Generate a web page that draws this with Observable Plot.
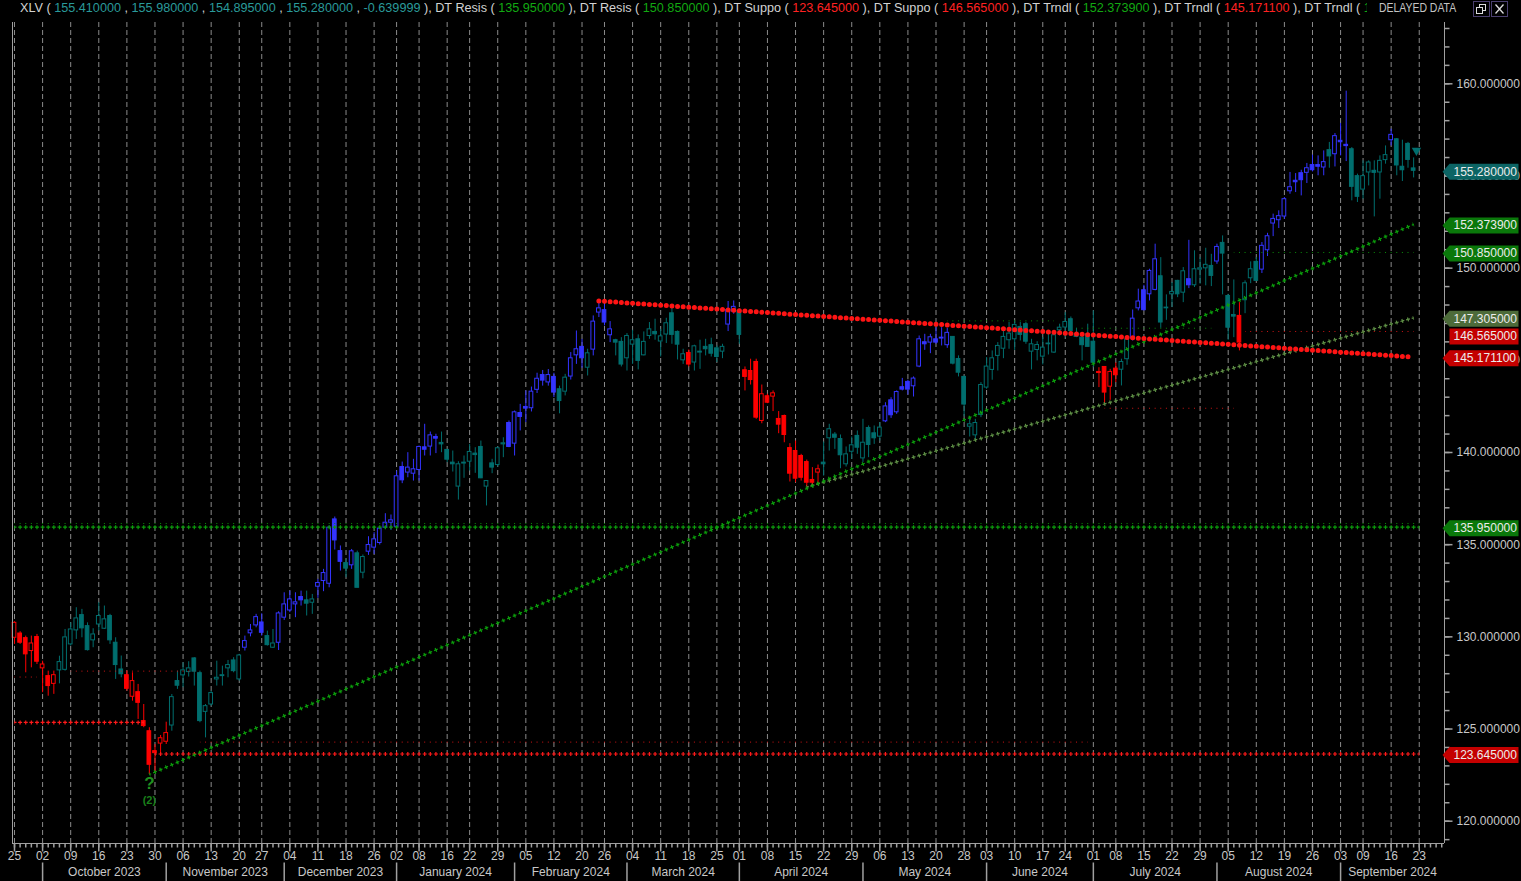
<!DOCTYPE html>
<html><head><meta charset="utf-8">
<script src="https://cdn.jsdelivr.net/npm/d3@7"></script>
<script src="https://cdn.jsdelivr.net/npm/@observablehq/plot@0.6"></script>
<style>
html,body{margin:0;padding:0;background:#000;overflow:hidden}
#wrap{position:relative;width:1521px;height:881px;background:#000}
#hdr{position:absolute;left:20px;top:0px;white-space:nowrap;font:12.65px "Liberation Sans",Arial,sans-serif;color:#d2d2d2;line-height:16px}
#hdr .cut{display:inline-block;width:3px;overflow:hidden;vertical-align:top}
#delayed{position:absolute;left:1379px;top:1px;font:12px "Liberation Sans",Arial,sans-serif;color:#c4c4c4;line-height:15px;transform:scaleX(0.87);transform-origin:left top;white-space:nowrap}
.btn{position:absolute;top:1px;width:17px;height:16px;border:1px solid #4a3f6e;box-sizing:border-box;background:#000}
.btn svg{position:absolute;left:0;top:0}
</style></head><body>
<div id="wrap"><div id="chart"></div><div id="hdr"></div><div id="delayed">DELAYED DATA</div>
<div class="btn" style="left:1473px"><svg width="15" height="14"><rect x="5.5" y="2.5" width="6" height="6" fill="none" stroke="#ddd"/><rect x="2.5" y="5.5" width="6" height="6" fill="#000" stroke="#ddd"/></svg></div>
<div class="btn" style="left:1491px"><svg width="15" height="14"><path d="M3.5 2.5 L11.5 11.5 M11.5 2.5 L3.5 11.5" stroke="#ddd" stroke-width="1.3"/></svg></div>
</div>
<script>
// ---------------- DATA ----------------
const symbolName = "XLV";
const headerChange = -0.639999;

const open = [
129.95,130.18,129.93,129.23,129.99,128.29,127.87,127.45,128.18,128.21,
129.59,130.35,131.18,130.58,129.81,130.67,130.44,131.13,129.68,128.23,
127.92,126.75,127.00,125.43,124.88,123.80,124.21,124.31,125.19,127.60,
127.91,128.09,128.83,128.03,125.93,126.33,127.69,127.87,128.29,128.72,
127.69,129.41,130.19,130.62,130.78,130.04,129.41,129.68,131.04,131.43,
131.76,132.16,131.98,131.85,132.72,133.03,132.88,136.37,134.65,134.00,
133.88,134.53,133.48,134.62,134.84,135.09,135.92,136.19,135.97,139.21,
138.91,138.85,139.05,140.28,140.32,140.84,140.52,140.14,139.45,138.15,
139.40,139.50,139.94,140.30,138.15,139.41,139.32,140.44,141.60,140.48,
142.14,142.47,142.40,143.40,144.20,143.80,144.10,143.43,143.30,144.12,
145.27,145.73,144.60,145.58,147.59,147.72,146.36,146.09,146.00,145.11,
145.85,146.14,145.27,146.32,146.54,146.02,146.40,147.55,146.54,145.00,
145.40,144.88,145.42,145.73,145.82,145.65,145.47,146.94,147.64,147.68,
144.46,144.42,144.91,141.71,143.05,143.03,141.82,141.98,140.24,140.08,
139.81,139.48,138.51,138.91,139.45,140.77,140.97,140.73,139.36,140.04,
140.90,139.68,141.33,141.04,140.86,141.69,142.83,142.18,143.54,143.83,
143.59,144.66,145.98,145.96,146.14,146.18,145.82,146.27,145.07,144.10,
141.40,140.93,142.03,143.52,144.48,145.24,145.63,146.09,146.14,146.81,
146.96,145.47,145.56,145.20,145.87,145.42,146.63,146.78,147.23,146.41,
146.23,146.41,146.01,144.37,144.64,143.57,144.55,144.49,145.06,146.18,
147.82,148.80,148.58,148.82,149.56,147.86,148.58,149.31,148.67,149.40,
149.07,149.92,149.99,150.12,150.36,151.37,148.49,147.46,147.41,148.26,
149.45,150.34,149.92,150.97,152.42,152.60,152.80,154.17,154.74,155.15,
155.17,155.59,155.59,155.46,156.40,156.18,156.91,156.69,156.45,154.99,
154.26,155.19,155.28,155.19,155.86,156.94,156.99,155.50,156.74,155.41];

const high = [
130.82,130.28,130.04,130.04,130.13,128.68,128.14,128.14,128.95,130.40,
130.76,131.58,131.49,130.76,130.44,131.85,131.67,131.22,129.95,128.96,
128.14,128.05,127.42,126.33,125.07,124.16,124.65,125.37,126.87,128.14,
128.59,128.65,128.87,128.14,126.33,127.06,128.68,128.41,128.72,128.87,
129.05,130.04,130.67,131.22,131.25,130.31,130.40,131.36,132.39,132.48,
132.39,132.48,132.48,132.30,133.12,133.66,136.01,136.50,134.93,134.20,
134.74,134.65,134.44,135.43,135.65,135.92,136.68,136.61,138.99,139.48,
139.99,139.63,140.35,141.53,141.11,140.99,141.11,140.17,140.08,139.50,
139.81,140.44,140.26,140.62,138.45,139.63,140.30,140.80,141.71,142.25,
142.61,143.34,143.55,144.30,144.45,144.50,144.30,143.60,144.24,145.42,
146.59,146.14,145.60,147.41,148.22,148.04,147.10,146.14,146.23,146.45,
146.63,146.38,146.54,147.05,147.23,146.68,147.28,147.82,146.59,145.60,
145.56,145.82,146.09,146.14,146.20,145.78,145.87,148.19,148.22,147.77,
144.64,145.06,145.06,143.66,143.16,143.34,142.22,142.03,140.48,140.62,
139.90,139.59,139.18,139.32,140.57,141.53,141.08,140.95,140.30,140.84,
141.17,141.80,141.44,141.44,141.62,142.70,142.97,143.34,144.02,143.92,
144.10,146.32,146.41,146.41,146.77,146.77,146.74,146.29,145.24,144.15,
141.93,141.80,143.79,145.15,145.51,145.96,146.59,147.05,147.14,147.05,
147.05,146.14,146.01,146.23,146.45,146.45,146.96,147.59,147.35,146.74,
146.41,146.96,147.68,144.60,144.64,144.51,144.86,145.06,146.27,147.73,
148.86,149.07,149.94,151.30,150.57,148.55,149.22,149.34,150.03,151.51,
150.94,150.57,151.08,150.75,151.30,151.75,148.58,149.36,148.13,149.31,
150.34,150.57,151.39,151.89,152.93,153.11,153.83,155.19,155.13,155.31,
155.68,156.13,156.09,156.36,156.82,157.30,157.85,159.60,156.54,155.10,
155.82,155.82,155.82,156.09,156.63,157.54,157.03,156.94,156.82,155.98];

const low = [
129.59,129.59,128.05,128.32,128.50,126.97,126.78,126.88,127.45,128.14,
129.50,129.86,129.95,129.23,129.41,130.31,130.40,129.59,127.69,127.78,
127.06,126.51,125.52,125.07,122.53,122.62,123.62,124.16,124.88,127.15,
127.24,127.82,127.33,125.34,124.52,126.24,127.33,127.33,127.78,128.05,
127.60,129.23,130.00,130.49,130.04,129.50,129.37,129.26,130.89,131.31,
131.04,131.67,131.13,131.22,132.09,132.45,132.66,134.71,133.57,133.21,
133.66,132.66,133.15,134.42,134.47,134.98,135.83,135.78,135.97,138.31,
138.63,138.45,138.45,139.81,139.81,139.94,139.99,139.45,138.94,137.42,
138.60,138.99,138.87,138.58,137.10,138.85,139.21,139.72,140.26,139.81,
141.17,141.62,142.20,143.20,143.60,143.60,142.98,142.10,143.07,143.93,
144.78,144.57,144.15,145.24,147.32,146.87,145.96,145.24,144.64,144.42,
144.78,144.48,145.24,146.14,146.09,145.18,145.91,145.87,145.02,144.78,
144.64,144.42,144.51,145.24,145.18,144.88,145.09,146.56,147.50,145.87,
143.34,143.66,141.80,141.56,142.65,142.22,141.02,140.53,138.40,138.36,
138.45,138.13,138.13,138.24,138.72,140.08,140.17,139.12,139.21,139.63,
139.90,139.45,139.72,140.44,140.62,141.62,141.85,142.07,143.34,143.12,
143.01,144.60,145.54,145.36,145.87,145.78,145.65,144.75,144.10,141.93,
140.84,140.66,141.89,143.43,143.92,144.42,145.09,145.60,145.54,146.05,
145.87,144.48,144.97,144.75,145.29,145.37,146.32,146.23,146.45,146.23,
144.97,145.73,144.60,143.52,142.61,142.83,143.79,143.61,144.73,146.05,
147.68,147.68,148.22,148.77,146.74,147.17,147.86,148.40,148.13,148.89,
148.95,149.13,149.04,149.00,150.21,148.55,146.09,146.23,145.51,147.53,
149.16,149.31,149.71,150.63,151.71,152.15,152.65,154.01,154.10,153.92,
154.59,155.22,155.01,155.01,155.42,155.49,156.09,155.78,153.65,153.56,
153.74,154.46,152.78,153.74,155.64,156.63,155.01,154.70,155.42,154.895];

const close = [
130.76,129.68,129.05,129.64,128.65,128.50,127.33,127.92,128.63,129.97,
130.40,131.00,130.46,129.28,130.13,131.13,130.95,129.81,128.47,127.97,
127.18,127.60,126.42,125.16,123.06,123.69,124.50,124.78,126.73,127.35,
128.18,128.29,128.11,125.43,126.24,126.95,127.78,127.92,128.47,128.14,
128.99,129.77,130.35,131.07,130.22,129.55,129.64,131.27,131.76,132.03,
131.87,131.98,131.80,132.03,132.92,133.46,135.92,135.23,134.07,133.70,
134.64,132.66,134.33,134.98,135.29,135.87,136.19,136.32,138.71,138.49,
139.18,139.09,140.30,140.15,140.93,140.75,140.44,139.61,139.36,139.36,
139.45,140.03,139.86,138.60,138.45,139.18,140.23,140.50,140.30,142.18,
141.93,142.38,143.30,144.00,143.90,144.20,143.25,142.79,144.06,145.11,
145.60,145.11,145.38,147.10,147.82,147.05,146.68,145.96,144.77,146.32,
146.09,144.97,146.00,146.68,146.41,146.30,147.01,146.38,145.85,145.33,
144.77,145.76,145.47,145.60,145.36,145.18,145.73,147.73,147.90,146.38,
144.10,143.93,141.89,143.16,142.70,143.21,141.51,140.95,138.85,138.58,
138.63,138.36,138.36,139.09,139.36,141.26,140.80,139.85,139.90,140.39,
140.26,140.53,140.41,140.77,141.35,142.50,142.02,143.28,143.41,143.41,
144.01,146.14,145.87,146.25,145.96,146.23,146.49,144.82,144.33,142.60,
141.53,141.60,143.66,144.66,145.11,145.78,146.27,146.45,146.92,146.38,
146.01,145.87,145.83,145.69,145.91,146.36,146.77,147.08,146.59,146.27,
145.82,145.73,144.87,144.31,143.25,144.37,144.19,144.91,146.14,147.26,
148.19,147.72,149.85,150.48,147.05,147.82,148.71,148.58,149.83,149.07,
149.94,149.99,150.18,149.58,151.15,150.79,146.77,147.37,145.96,149.18,
149.94,149.31,151.21,151.73,152.67,152.82,153.74,154.39,154.66,154.77,
155.42,155.31,155.50,155.75,156.06,157.16,156.83,156.62,154.41,153.87,
154.99,155.73,155.17,155.82,156.13,157.23,155.57,155.31,155.87,155.28];

// trend-colour regime: first bar index of each run and its code (R red, T neutral, B blue)
const regimeStart = [0,8,20,28,41,45,47,52,54,59,60,61,63,76,88,97,99,102,103,107,120,121,127,129,130,144,155,167,193,197,199,204,209,210,214,215,218,219,222,234,235,238,245,246];
const regimeCode  = ["R","T","R","T","B","T","B","T","B","T","B","T","B","T","B","T","B","T","B","T","R","T","B","T","R","T","B","T","R","T","B","T","B","T","B","T","R","T","B","T","B","T","B","T"];

// week ticks (bar index of first session of each week) and their labels
const weekIdx = [0,5,10,15,20,25,30,35,40,44,49,54,59,64,68,72,77,81,86,91,96,101,105,110,115,120,125,129,134,139,144,149,154,159,164,169,173,178,183,187,192,196,201,206,211,216,221,226,231,236,240,245,250];
const weekLabels = ["25","02","09","16","23","30","06","13","20","27","04","11","18","26","02","08","16","22","29","05","12","20","26","04","11","18","25","01","08","15","22","29","06","13","20","28","03","10","17","24","01","08","15","22","29","05","12","19","26","03","09","16","23"];
const monthStart = [5,27,48,68,89,109,129,151,173,192,214,236];
const monthNames = ["October 2023","November 2023","December 2023","January 2024","February 2024","March 2024","April 2024","May 2024","June 2024","July 2024","August 2024","September 2024"];

const yTicks = [120,125,130,135,140,145,150,155,160];

// indicator levels (header + price tags)
const indNames  = ["DT Resis","DT Resis","DT Suppo","DT Suppo","DT Trndl","DT Trndl","DT Trndl"];
const indValues = [135.95,150.85,123.645,146.565,152.3739,145.1711,147.305];
const indKind   = ["g","g","r","r","g","r","g"];

// horizontal "+" levels
const plusLevel = [135.95,125.36,123.645];
const plusFrom  = [0,0,25];
const plusTo    = [250,23,250];
const plusKind  = ["g","r","r"];

// thin dotted horizontal levels
const dotLevel = [136.15,127.82,128.14,124.29,147.14,146.74,150.85,146.565,142.40];
const dotFrom  = [0,0,10,33,166,189,217,219,194];
const dotTo    = [250,4,32,191,185,213,249,249,217];
const dotKind  = ["g","r","r","r","g","g","g","r","r"];

// trend lines: [startBar, startValue, endBar, endValue]
const upTrendA   = [24,122.53,249,152.3739];
const upTrendB   = [141,138.13,249,147.305];
const downTrend  = [104,148.22,249,145.1711];

// price tags on the axis
const tagValues = [155.28,152.3739,150.85,147.305,146.565,145.1711,135.95,123.645];
const tagKind   = ["c","g","g","o","r","r","g","r"];

// ---------------- LAYOUT / STYLE ----------------
const W=1521,H=881,mL=12,mR=77,mT=22,mB=38;
const xDom=[-0.3559,254.494], yDom=[118.79,163.325];
const pxPerBar=(W-mL-mR)/(xDom[1]-xDom[0]);
const pxPerUnit=(H-mT-mB)/(yDom[1]-yDom[0]);
const candleCol={R:"#ff0000",T:"#006e6e",B:"#3434ff"};
const lineCol={g:"#0c9c0c",r:"#ff1a1a"};
const thinCol={g:"#0b8f0b",r:"#d01414"};
const tagCol={c:"#0c6464",g:"#0a780a",o:"#4d6b3a",r:"#c40000"};
const hdrCol={g:"#12a812",r:"#ff2222",c:"#2a9a9a"};
const axisGray="#a0a0a0", textGray="#c8c8c8";
const FONT="'Liberation Sans', Arial, sans-serif";

function regimeAt(i){let c=regimeCode[0];for(let k=0;k<regimeStart.length;k++){if(regimeStart[k]<=i)c=regimeCode[k];}return c;}
const bars = open.map((o,i)=>({i,o,h:high[i],l:low[i],c:close[i],col:candleCol[regimeAt(i)]}));

function period(s){const slope=(s[3]-s[1])/(s[2]-s[0])*pxPerUnit/pxPerBar;return pxPerBar*Math.hypot(1,slope);}
function seg(s){return [{x1:s[0],y1:s[1],x2:s[2],y2:s[3]}];}
function plusLine(s,color){
  const p=period(s);
  return [
    Plot.link(seg(s),{x1:"x1",y1:"y1",x2:"x2",y2:"y2",stroke:color,strokeWidth:1.2,strokeDasharray:`4 ${p-4}`,strokeDashoffset:2}),
    Plot.link(seg(s),{x1:"x1",y1:"y1",x2:"x2",y2:"y2",stroke:color,strokeWidth:4,strokeDasharray:`1.2 ${p-1.2}`,strokeDashoffset:0.6})
  ];
}
function thinLine(s,color){
  const p=period(s);
  return Plot.link(seg(s),{x1:"x1",y1:"y1",x2:"x2",y2:"y2",stroke:color,strokeWidth:1,strokeDasharray:`1 ${p-1}`,strokeDashoffset:0.5});
}
const hTick=len=>({draw(ctx){ctx.moveTo(0,0);ctx.lineTo(len,0);}});
const vTick=(a,b)=>({draw(ctx){ctx.moveTo(0,a);ctx.lineTo(0,b);}});
const tagArrow={draw(ctx){ctx.moveTo(-2,0);ctx.lineTo(5,-8);ctx.lineTo(74,-8);ctx.lineTo(74,8);ctx.lineTo(5,8);ctx.closePath();}};
const tagBox={draw(ctx){ctx.moveTo(5,-8);ctx.lineTo(74,-8);ctx.lineTo(74,8);ctx.lineTo(5,8);ctx.closePath();}};

const weeks = weekIdx.map((x,k)=>({x,label:weekLabels[k]}));
const months = monthStart.map((s,k)=>({name:monthNames[k],mid:(s+(k+1<monthStart.length?monthStart[k+1]:xDom[1]))/2}));
const tags = tagValues.map((v,k)=>({v,fill:tagCol[tagKind[k]],k}));
const shifted = 4; // index of the tag displaced below its neighbour
const normalTags = tags.filter(t=>t.k!==shifted), shiftedTags = tags.filter(t=>t.k===shifted);

const marks=[];
marks.push(Plot.ruleX(weekIdx,{x:d=>d,stroke:"#8a8a8a",strokeDasharray:"5,3"}));
// candles
marks.push(Plot.ruleX(bars,{x:"i",y1:"l",y2:"h",stroke:"col",strokeWidth:1}));
marks.push(Plot.rect(bars,{x1:d=>d.i-0.33,x2:d=>d.i+0.33,y1:"o",y2:"c",fill:d=>d.c>=d.o?"#000000":d.col,stroke:"col",strokeWidth:1}));
// indicator lines
dotLevel.forEach((v,k)=>marks.push(thinLine([dotFrom[k],v,dotTo[k],v],thinCol[dotKind[k]])));
plusLevel.forEach((v,k)=>marks.push(...plusLine([plusFrom[k],v,plusTo[k],v],lineCol[plusKind[k]])));
marks.push(...plusLine(upTrendB,"#5e8f45"));
marks.push(...plusLine(upTrendA,"#0ca00c"));
marks.push(Plot.link(seg(downTrend),{x1:"x1",y1:"y1",x2:"x2",y2:"y2",stroke:"#ff1414",strokeWidth:5,strokeLinecap:"round",strokeDasharray:`0 ${period(downTrend)}`}));
// current-price marker
marks.push(Plot.dot([bars[bars.length-1]],{x:d=>d.i+0.5,y:d=>d.h+0.4,symbol:"triangle",rotate:180,r:3.5,fill:candleCol.T}));
// wave annotation
marks.push(Plot.text([24],{x:d=>d,y:d=>low[d],text:()=>"?",dy:9,fill:"#1f8f1f",fontSize:17,fontWeight:"bold"}));
marks.push(Plot.text([24],{x:d=>d,y:d=>low[d],text:()=>"(2)",dy:26,fill:"#1a7f1a",fontSize:11,fontWeight:"bold"}));
// frame / axes lines
marks.push(Plot.ruleX([xDom[0]],{x:d=>d,stroke:axisGray}));
marks.push(Plot.ruleX([xDom[1]],{x:d=>d,stroke:axisGray}));
marks.push(Plot.ruleY([yDom[0]],{y:d=>d,stroke:axisGray}));
// y axis ticks & labels
marks.push(Plot.dot(d3.range(119,164),{y:d=>d,frameAnchor:"right",symbol:hTick(5),stroke:axisGray,fill:"none"}));
marks.push(Plot.dot(yTicks,{y:d=>d,frameAnchor:"right",symbol:hTick(8),stroke:axisGray,fill:"none"}));
marks.push(Plot.text(yTicks,{y:d=>d,text:d=>d.toFixed(6),frameAnchor:"right",dx:12,textAnchor:"start",fill:textGray,fontSize:12}));
// x axis ticks & labels
marks.push(Plot.dot(d3.range(0,255),{x:d=>d,frameAnchor:"bottom",symbol:vTick(0,4),stroke:axisGray,fill:"none"}));
marks.push(Plot.dot(weekIdx,{x:d=>d,frameAnchor:"bottom",symbol:vTick(0,8),stroke:axisGray,fill:"none"}));
marks.push(Plot.text(weeks,{x:"x",text:"label",frameAnchor:"bottom",dy:16,fill:textGray,fontSize:12}));
marks.push(Plot.dot(monthStart,{x:d=>d,frameAnchor:"bottom",symbol:vTick(19,38),stroke:axisGray,fill:"none"}));
marks.push(Plot.text(months,{x:"mid",text:"name",frameAnchor:"bottom",dy:32,fill:textGray,fontSize:12}));
// price tags
marks.push(Plot.dot(normalTags,{y:"v",frameAnchor:"right",symbol:tagArrow,fill:"fill",stroke:"none",dy:1}));
marks.push(Plot.dot(shiftedTags,{y:"v",frameAnchor:"right",symbol:tagBox,fill:"fill",stroke:"none",dy:5}));
marks.push(Plot.text(normalTags,{y:"v",text:d=>d.v.toFixed(6),frameAnchor:"right",dx:9,dy:1,textAnchor:"start",fill:"#ececec",fontSize:12}));
marks.push(Plot.text(shiftedTags,{y:"v",text:d=>d.v.toFixed(6),frameAnchor:"right",dx:9,dy:5,textAnchor:"start",fill:"#ececec",fontSize:12}));

const chart = Plot.plot({
  width:W,height:H,marginLeft:mL,marginRight:mR,marginTop:mT,marginBottom:mB,
  x:{type:"linear",domain:xDom,axis:null},
  y:{type:"linear",domain:yDom,axis:null},
  color:{type:"identity"},
  style:{background:"#000",color:textGray,fontFamily:FONT,fontSize:"12px",overflow:"visible"},
  marks
});
document.getElementById("chart").appendChild(chart);

// header (the last indicator is cut off by the DELAYED DATA panel, as in the original)
const sp=(t,c)=>`<span style="color:${c}">${t}</span>`;
const last=bars.length-1;
let html=`${symbolName} ( `+[open[last],high[last],low[last],close[last]].map(v=>sp(v.toFixed(6),hdrCol.c)).join(" , ")+" , "+sp(headerChange.toFixed(6),hdrCol.c)+" )";
indNames.forEach((n,k)=>{
  const isLast = k===indNames.length-1;
  const txt = indValues[k].toFixed(6);
  html += isLast
    ? `, ${n} ( <span class="cut">${sp(txt.charAt(0),hdrCol[indKind[k]])}</span>`
    : `, ${n} ( ${sp(txt,hdrCol[indKind[k]])} )`;
});
document.getElementById("hdr").innerHTML=html;
</script>
</body></html>
